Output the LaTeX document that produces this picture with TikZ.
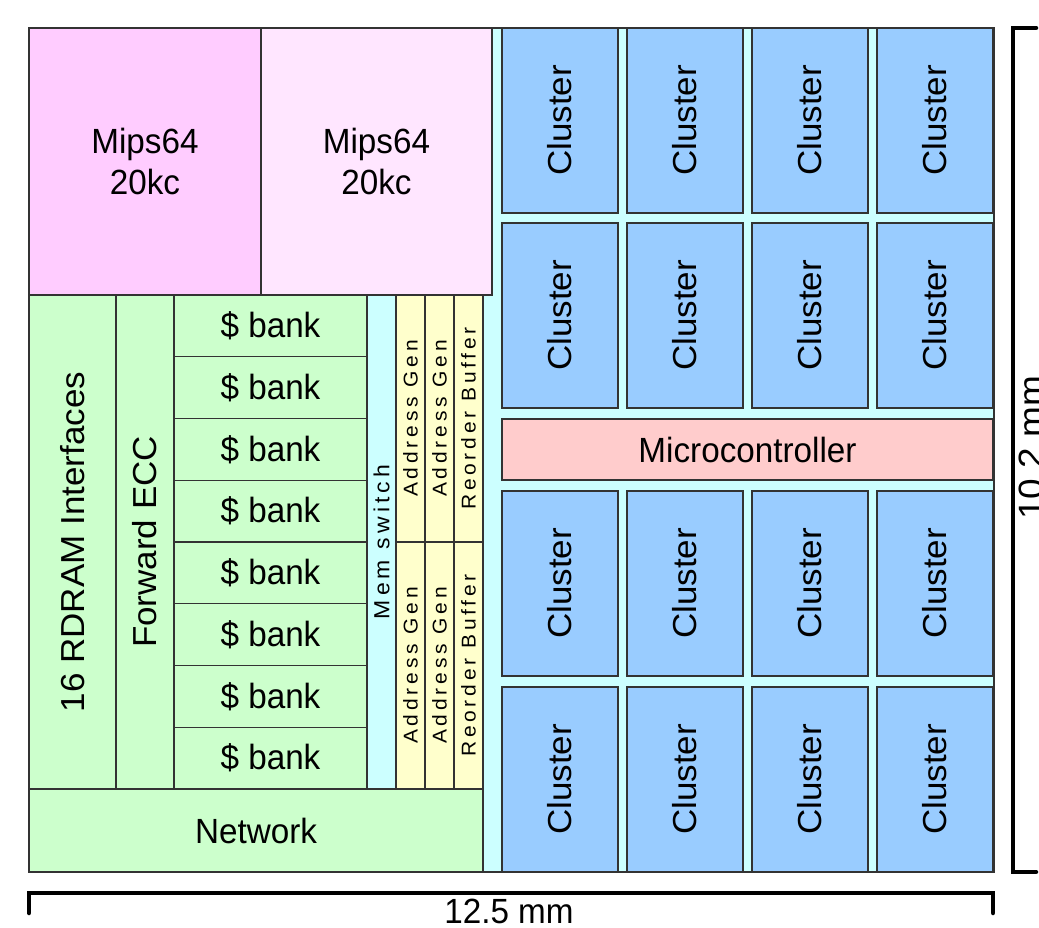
\documentclass[tikz,border=0pt]{standalone}
\usepackage{fontspec}
\setmainfont{Liberation Sans}
\newfontfamily\spacedfont[LetterSpace=18]{Liberation Sans}
\usepackage{graphicx}
\definecolor{mipsA}{HTML}{FFCCFF}
\definecolor{mipsB}{HTML}{FFE6FF}
\definecolor{grn}{HTML}{CCFFCC}
\definecolor{cyn}{HTML}{CCFFFF}
\definecolor{ylw}{HTML}{FFFFCC}
\definecolor{blu}{HTML}{99CCFF}
\definecolor{rose}{HTML}{FFCCCC}
\definecolor{edge}{HTML}{333333}
\newcommand{\htxt}[1]{\scalebox{0.95}[1]{#1}}
\newcommand{\vtxt}[1]{\rotatebox{90}{\scalebox{1}[0.95]{#1}}}
\newcommand{\stxt}[2][21]{\rotatebox{90}{\spacedfont\fontsize{#1}{24}\selectfont\scalebox{1}[0.95]{#2}}}
\newcommand{\blockat}[7]{%
  \pgfmathsetmacro{\bw}{#5-#3}\pgfmathsetmacro{\bh}{#6-#4}%
  \node[blk,#2,minimum width=\bw pt,minimum height=\bh pt] (#1) at ({(#3+#5)/2},{(#4+#6)/2}) {#7};}
\tikzset{
  blk/.style={draw=edge,line width=1.1pt,inner sep=0pt,outer sep=0pt,
    font=\fontsize{35}{41}\selectfont,align=center},
  ruler/.style={line width=4.5pt,line cap=round,line join=miter,black},
  rulerlabel/.style={font=\fontsize{35}{40}\selectfont,inner sep=0pt}
}
\begin{document}
\begin{tikzpicture}[x=1pt,y=-1pt]
\useasboundingbox (0,0) rectangle (1039,928);
\clip (0,0) rectangle (1039,928);
% cyan background of the cluster area
\blockat{bg}{fill=cyn}{483}{28}{994}{872}{}
% MIPS cores
\blockat{mipsL}{fill=mipsA}{29}{28}{261}{295}{\htxt{Mips64}\\\htxt{20kc}}
\blockat{mipsR}{fill=mipsB}{261}{28}{492}{295}{\htxt{Mips64}\\\htxt{20kc}}
% memory side
\blockat{rdram}{fill=grn}{29}{295}{116}{789}{\vtxt{16 RDRAM Interfaces}}
\blockat{fecc}{fill=grn}{116}{295}{174}{789}{\vtxt{Forward ECC}}
\foreach \i in {0,...,7}{
  \pgfmathsetmacro{\ya}{295+61.75*\i}
  \pgfmathsetmacro{\yb}{295+61.75*(\i+1)}
  \blockat{bank\i}{fill=grn}{174}{\ya}{367}{\yb}{\htxt{\$ bank}}
}
\blockat{memsw}{fill=cyn}{367}{295}{396}{789}{\stxt[23]{Mem switch}}
\blockat{agA1}{fill=ylw}{396}{295}{425}{542}{\stxt{Address Gen}}
\blockat{agA2}{fill=ylw}{425}{295}{454}{542}{\stxt{Address Gen}}
\blockat{robA}{fill=ylw}{454}{295}{483}{542}{\stxt{Reorder Buffer}}
\blockat{agB1}{fill=ylw}{396}{542}{425}{789}{\stxt{Address Gen}}
\blockat{agB2}{fill=ylw}{425}{542}{454}{789}{\stxt{Address Gen}}
\blockat{robB}{fill=ylw}{454}{542}{483}{789}{\stxt{Reorder Buffer}}
\blockat{net}{fill=grn}{29}{789}{483}{872}{\htxt{Network}}
% clusters
\foreach \c in {0,...,3}{
  \pgfmathsetmacro{\xa}{502+125*\c}
  \pgfmathsetmacro{\xb}{\xa+116}
  \foreach \r/\ya/\yb in {0/28/213,1/223/408,2/491/676,3/687/872}{
    \blockat{cl\r\c}{fill=blu}{\xa}{\ya}{\xb}{\yb}{\vtxt{Cluster}}
  }
}
\blockat{micro}{fill=rose}{502}{419}{993}{480}{\htxt{Microcontroller}}
% dimension rulers
\coordinate (vT) at (1036,28);
\coordinate (vB) at (1036,872);
\draw[ruler] (vT) -- (1013,28) -- (1013,872) -- (vB);
\coordinate (hL) at (29,913);
\coordinate (hR) at (993,913);
\draw[ruler] (hL) -- (29,893) -- (993,893) -- (hR);
\node[rulerlabel,anchor=base] (wlab) at (509,923) {\htxt{12.5 mm}};
\node[rulerlabel,font=\fontsize{37}{40}\selectfont,rotate=90,anchor=base] (hlab) at (1043,448) {\scalebox{1}[0.95]{10.2 mm}};
\end{tikzpicture}
\end{document}
